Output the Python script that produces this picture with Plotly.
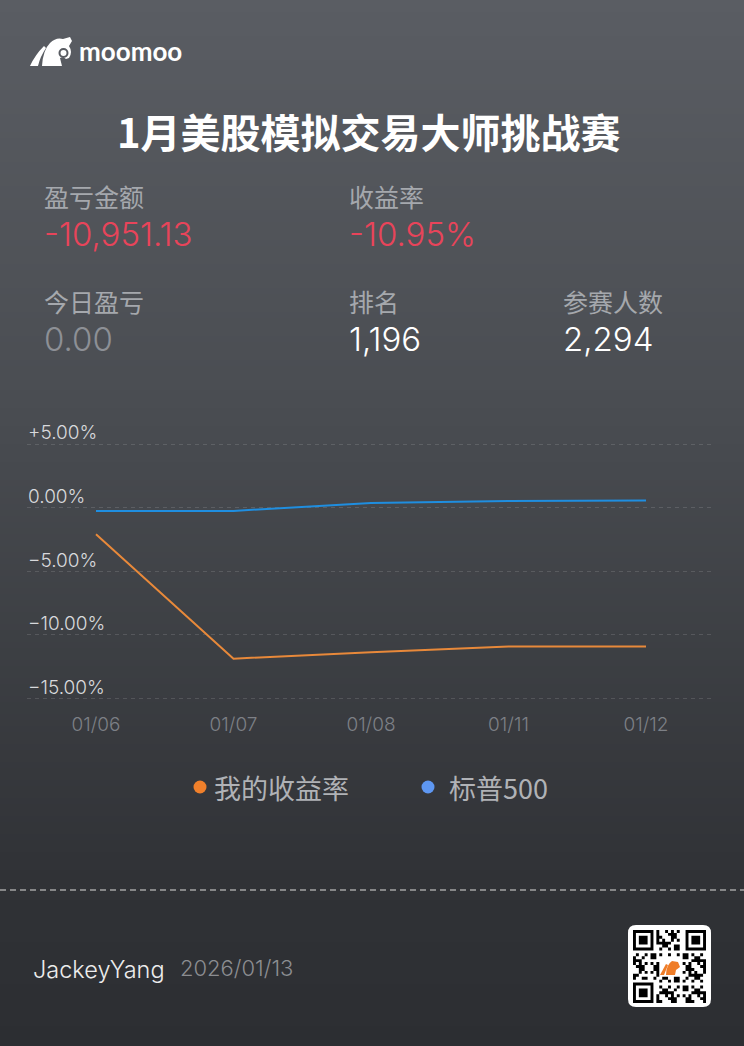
import plotly.graph_objects as go

W, H = 744, 1046

# ---------------- data ----------------
dates = ["01/06", "01/07", "01/08", "01/11", "01/12"]
my_return = [-2.1, -11.9, -11.4, -10.95, -10.95]
sp500_return = [-0.27, -0.27, 0.36, 0.52, 0.55]
series_names = ["我的收益率", "标普500"]
y_ticks = [5, 0, -5, -10, -15]
y_tick_labels = ["+5.00%", "0.00%", "−5.00%", "−10.00%", "−15.00%"]

stat_labels = ["盈亏金额", "收益率", "今日盈亏", "排名", "参赛人数"]
stat_values = ["-10,951.13", "-10.95%", "0.00", "1,196", "2,294"]

title_text = "1月美股模拟交易大师挑战赛"
user_name = "JackeyYang"
date_text = "2026/01/13"

# ---------------- helpers ----------------
def px(x):
    return x / W

def py(y):
    return 1 - y / H

def hex2rgb(h):
    h = h.lstrip("#")
    return [int(h[i:i + 2], 16) for i in (0, 2, 4)]

stops = [(0, "#5a5d63"), (400, "#4a4d52"), (880, "#303236"), (1046, "#2c2e32")]

def bg_color(y):
    for (y0, c0), (y1, c1) in zip(stops[:-1], stops[1:]):
        if y0 <= y <= y1:
            t = (y - y0) / (y1 - y0)
            a, b = hex2rgb(c0), hex2rgb(c1)
            return "rgb(%d,%d,%d)" % tuple(round(a[i] + (b[i] - a[i]) * t) for i in range(3))
    return stops[-1][1]

ORANGE = "#e8893a"
BLUE = "#1f8ee0"
CJK = "Noto Sans CJK SC"
NUM = "Inter"

fig = go.Figure()

fig.add_trace(go.Scatter(x=list(range(len(dates))), y=sp500_return, mode="lines",
                         line=dict(color=BLUE, width=2), showlegend=False, hoverinfo="skip"))
fig.add_trace(go.Scatter(x=list(range(len(dates))), y=my_return, mode="lines",
                         line=dict(color=ORANGE, width=2), showlegend=False, hoverinfo="skip"))

shapes = []
# gradient background
step = 6
for y in range(0, H, step):
    shapes.append(dict(type="rect", xref="paper", yref="paper", layer="below",
                       x0=0, x1=1, y0=py(y + step + 1), y1=py(y),
                       fillcolor=bg_color(y + step / 2), line=dict(width=0)))

def P(x, y):
    return "%.5f,%.5f" % (px(x), py(y))

def path(cmds):
    # cmds: list of ("M"/"L", (x,y)) or ("Q", (cx,cy), (x,y))
    s = []
    for c in cmds:
        if c[0] == "Q":
            s.append("Q %s %s" % (P(*c[1]), P(*c[2])))
        else:
            s.append("%s %s" % (c[0], P(*c[1])))
    return " ".join(s) + " Z"

# logo icon (approximate)
leg = path([("M", (30, 66)), ("Q", (35, 55), (44, 46)), ("L", (46, 48)),
            ("Q", (40, 57), (38, 66))])
head = path([("M", (42, 66)), ("Q", (43, 50), (50, 43)), ("Q", (56, 37), (63, 39)),
             ("L", (70, 37)), ("L", (72, 41)), ("L", (69, 46)), ("Q", (73, 52), (69, 58)),
             ("L", (66, 59)), ("Q", (63, 56), (60, 58)), ("L", (62, 66))])
for p in (leg, head):
    shapes.append(dict(type="path", xref="paper", yref="paper", path=p,
                       fillcolor="white", line=dict(width=0)))
shapes.append(dict(type="circle", xref="paper", yref="paper",
                   x0=px(59.5), x1=px(67.5), y0=py(57), y1=py(49),
                   fillcolor="rgba(0,0,0,0)", line=dict(color="#585b61", width=2)))

# legend dots
for cx, col in [(200, "#f0802b"), (428, "#5e97f2")]:
    shapes.append(dict(type="circle", xref="paper", yref="paper",
                       x0=px(cx - 6.5), x1=px(cx + 6.5), y0=py(787 + 6.5), y1=py(787 - 6.5),
                       fillcolor=col, line=dict(width=0)))

# footer dashed line
shapes.append(dict(type="line", xref="paper", yref="paper", x0=0, x1=1, y0=py(890), y1=py(890),
                   line=dict(color="rgba(200,200,200,0.75)", width=1.5, dash="6px,4px")))

# QR code block (decorative)
qx0, qy0, qx1, qy1, r = 628, 925, 711, 1007, 8
qr = path([("M", (qx0 + r, qy0)), ("L", (qx1 - r, qy0)), ("Q", (qx1, qy0), (qx1, qy0 + r)),
           ("L", (qx1, qy1 - r)), ("Q", (qx1, qy1), (qx1 - r, qy1)),
           ("L", (qx0 + r, qy1)), ("Q", (qx0, qy1), (qx0, qy1 - r)),
           ("L", (qx0, qy0 + r)), ("Q", (qx0, qy0), (qx0 + r, qy0))])
shapes.append(dict(type="path", xref="paper", yref="paper", path=qr, fillcolor="white",
                   line=dict(width=0)))
N = 25
m0x, m0y, ms = 633, 930, 73 / N

def finder(i, j):
    for (fi, fj) in [(0, 0), (0, N - 7), (N - 7, 0)]:
        if fi <= i < fi + 7 and fj <= j < fj + 7:
            a, b = i - fi, j - fj
            if a in (0, 6) or b in (0, 6) or (2 <= a <= 4 and 2 <= b <= 4):
                return 1
            return 0
        if fi - 1 <= i <= fi + 7 and fj - 1 <= j <= fj + 7:
            return 0
    return None

mods = []
for i in range(N):
    for j in range(N):
        f = finder(i, j)
        if f is None:
            if 9 <= i <= 15 and 9 <= j <= 15:
                f = 0
            else:
                f = 1 if ((i * 31 + j * 17 + i * j * 7) % 11) < 5 else 0
        if f:
            x0, y0 = m0x + j * ms, m0y + i * ms
            mods.append(path([("M", (x0, y0)), ("L", (x0 + ms, y0)), ("L", (x0 + ms, y0 + ms)),
                              ("L", (x0, y0 + ms))]))
shapes.append(dict(type="path", xref="paper", yref="paper", path=" ".join(mods), fillcolor="black",
                   line=dict(width=0)))
mini = path([("M", (660, 975)), ("L", (666, 964)), ("L", (668, 965)), ("L", (664, 975))])
mini2 = path([("M", (666, 975)), ("Q", (666, 965), (672, 961)), ("L", (678, 962)), ("L", (680, 967)),
              ("L", (676, 970)), ("L", (675, 975))])
for p in (mini, mini2):
    shapes.append(dict(type="path", xref="paper", yref="paper", path=p,
                       fillcolor="#ef7d28", line=dict(width=0)))

annotations = []

def txt(x, y, text, size, color, family=CJK, weight=400, anchor="left"):
    annotations.append(dict(x=px(x), y=py(y), xref="paper", yref="paper", text=text,
                            showarrow=False, xanchor=anchor, yanchor="middle",
                            font=dict(size=size, color=color, family=family, weight=weight)))

txt(77, 51, "moomoo", 26, "white", family="Lato", weight=700)
txt(369, 131, title_text, 40, "white", weight=700, anchor="center")

label_pos = [(44, 196), (349, 196), (44, 301), (349, 301), (563, 301)]
value_colors = ["#e8445a", "#e8445a", "#8d9096", "white", "white"]
for (x, y), lab, val, col in zip(label_pos, stat_labels, stat_values, value_colors):
    txt(x - 2, y, lab, 25, "#a5a8ad")
    txt(x - 2, y + 38, val, 33, col, family=NUM, weight=300)

# y-axis tick labels drawn above gridlines
for v, lab in zip(y_ticks, y_tick_labels):
    annotations.append(dict(x=px(26), y=v, xref="paper", yref="y", text=lab, showarrow=False,
                            xanchor="left", yanchor="middle", yshift=11,
                            font=dict(size=19, color="#d8d9dc", family=NUM, weight=300)))

# legend text
txt(212, 787, series_names[0], 27, "#b0b2b6")
txt(447, 787, series_names[1], 27, "#b0b2b6")

txt(31, 969, user_name, 23.5, "#ececec", family=NUM, weight=300)
txt(178, 968, date_text, 22, "#8b8d91", family=NUM, weight=300)

# plot area geometry
x_left, x_right = 27, 711
x_first, x_last = 96, 646
unit = (x_last - x_first) / (len(dates) - 1)
xr = [-(x_first - x_left) / unit, (len(dates) - 1) + (x_right - x_last) / unit]
y_top_px, y_bot_px = 431.3, 710.7

fig.update_layout(
    width=W, height=H, autosize=False,
    margin=dict(l=0, r=0, t=0, b=0),
    paper_bgcolor="#2c2e32", plot_bgcolor="rgba(0,0,0,0)",
    shapes=shapes, annotations=annotations, showlegend=False,
    xaxis=dict(domain=[px(x_left), px(x_right)], range=xr, showgrid=False, zeroline=False,
               showline=False, tickmode="array", tickvals=list(range(len(dates))), ticktext=dates,
               tickfont=dict(size=19, color="#7d8086", family=NUM, weight=300), ticks="",
               ticklabelstandoff=0, fixedrange=True),
    yaxis=dict(domain=[py(y_bot_px), py(y_top_px)], range=[-16, 6], tickmode="array",
               tickvals=y_ticks, showticklabels=False, showgrid=True,
               gridcolor="rgba(255,255,255,0.13)", griddash="4px,4px", gridwidth=1,
               zeroline=False, showline=False, fixedrange=True),
)

fig.write_html("out.html")
